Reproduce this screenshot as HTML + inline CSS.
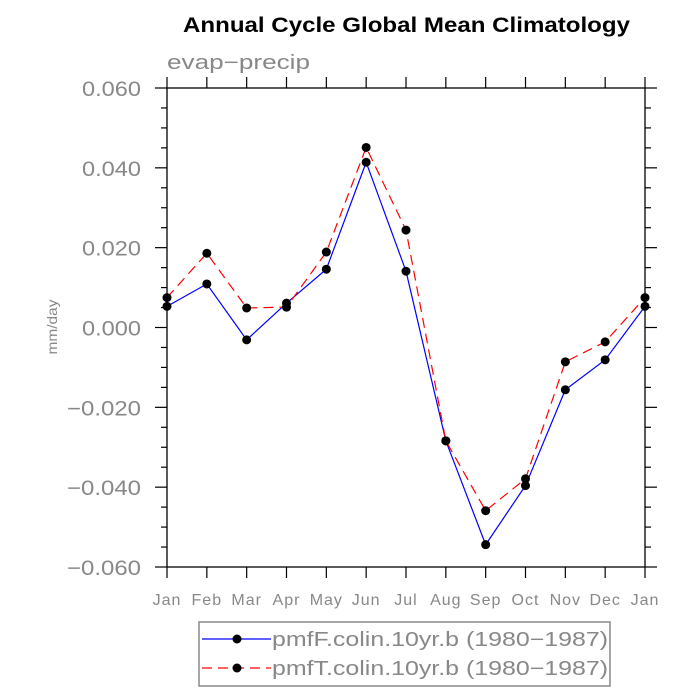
<!DOCTYPE html>
<html><head><meta charset="utf-8"><style>body{margin:0;background:#fff}svg{display:block}text{font-family:"Liberation Sans",sans-serif}</style></head>
<body>
<svg id="c" width="700" height="700">
<text x="183" y="32" textLength="447" lengthAdjust="spacingAndGlyphs" font-size="21" font-weight="bold" fill="#000">Annual Cycle Global Mean Climatology</text>
<text x="167" y="69" textLength="143" lengthAdjust="spacingAndGlyphs" font-size="20" fill="#888">evap−precip</text>
<text transform="translate(57,327) rotate(-90)" text-anchor="middle" textLength="55" lengthAdjust="spacingAndGlyphs" font-size="14" fill="#888">mm/day</text>
<g id="axes"></g>
<g id="series"></g>
<g>
<rect x="199" y="622" width="411" height="64" fill="none" stroke="#888" stroke-width="1.5"/>
<g>
<line x1="202" y1="639" x2="271" y2="639" stroke="#00f" stroke-width="1.2"/>
<circle cx="237" cy="639" r="4.5" fill="#000"/>
<text x="272" y="646" textLength="336" lengthAdjust="spacingAndGlyphs" font-size="20" fill="#888">pmfF.colin.10yr.b (1980−1987)</text>
</g>
<g>
<line x1="202" y1="668" x2="271" y2="668" stroke="#f00" stroke-width="1.2" stroke-dasharray="10,6"/>
<circle cx="237" cy="668" r="4.5" fill="#000"/>
<text x="272" y="675" textLength="336" lengthAdjust="spacingAndGlyphs" font-size="20" fill="#888">pmfT.colin.10yr.b (1980−1987)</text>
</g>
</g>
</svg>
<script>
const months=["Jan","Feb","Mar","Apr","May","Jun","Jul","Aug","Sep","Oct","Nov","Dec","Jan"];
const pmfF=[0.0053,0.0109,-0.0031,0.0061,0.0146,0.0414,0.0141,-0.0284,-0.0544,-0.0396,-0.0156,-0.0081,0.0053];
const pmfT=[0.0075,0.0186,0.0049,0.0051,0.0189,0.0451,0.0244,-0.0284,-0.0459,-0.0379,-0.0086,-0.0036,0.0075];
const yTicks=[-0.06,-0.04,-0.02,0,0.02,0.04,0.06];
const yLabels=["−0.060","−0.040","−0.020","0.000","0.020","0.040","0.060"];
const L=167,R=645,T=88,B=567,ymin=-0.06,ymax=0.06;
const xs=i=>L+(R-L)*i/(months.length-1);
const ys=v=>B-(v-ymin)/(ymax-ymin)*(B-T);
const NS="http://www.w3.org/2000/svg";
function mk(p,tag,at){const e=document.createElementNS(NS,tag);for(const k in at)e.setAttribute(k,at[k]);p.appendChild(e);return e;}
const ax=document.getElementById('axes');
const fr=mk(ax,'rect',{x:L,y:T,width:R-L,height:B-T,fill:'none',stroke:'#000','stroke-width':1.3});


for(let v=-0.06;v<=0.0601;v+=0.005){
 const y=ys(v);const major=Math.abs(Math.round(v*1000)%20)===0;const len=major?12:6;
 mk(ax,'line',{x1:L-len,y1:y,x2:L,y2:y,stroke:'#000','stroke-width':1.2});
 mk(ax,'line',{x1:R,y1:y,x2:R+len,y2:y,stroke:'#000','stroke-width':1.2});
}
yTicks.forEach((v,i)=>{const lab=yLabels[i];const w=lab.startsWith('−')?74:59;
 const t=mk(ax,'text',{x:L-26-w,y:ys(v)+8,textLength:w,lengthAdjust:'spacingAndGlyphs','font-size':21,fill:'#888'});t.textContent=lab;
 
 });
months.forEach((m,i)=>{const x=xs(i);
 mk(ax,'line',{x1:x,y1:B,x2:x,y2:B+11,stroke:'#000','stroke-width':1.2});
 mk(ax,'line',{x1:x,y1:T-11,x2:x,y2:T,stroke:'#000','stroke-width':1.2});
 const t=mk(ax,'text',{x:x,y:B+38,'text-anchor':'middle','font-size':16,'letter-spacing':1,fill:'#888'});t.textContent=m;
 
 });
const sg=document.getElementById('series');
function draw(vals,col,dash,name){
 const g=mk(sg,'g',{});
 
 
 mk(g,'polyline',{points:vals.map((v,i)=>xs(i)+','+ys(v)).join(' '),fill:'none',stroke:col,'stroke-width':1.2,'stroke-dasharray':dash});
 vals.forEach((v,i)=>{const c=mk(g,'circle',{cx:xs(i),cy:ys(v),r:4.5,fill:'#000'});
 
 });
}
draw(pmfF,'#00f','none','series-pmfF');
draw(pmfT,'#f00','10,6','series-pmfT');
</script>
</body></html>
